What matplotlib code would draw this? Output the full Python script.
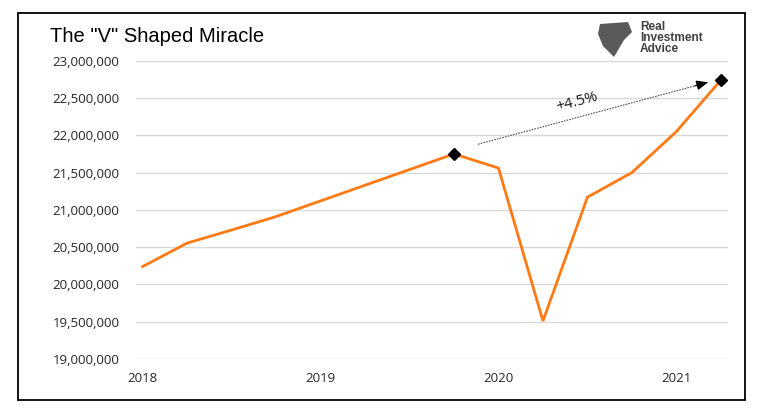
import numpy as np
import matplotlib
matplotlib.use("Agg")
from matplotlib import pyplot as plt
from matplotlib.patches import Rectangle, Polygon
from matplotlib.ticker import FuncFormatter

# quarterly values, 2018Q1 .. 2021Q2
quarters = np.arange(14)
gdp = [20240000, 20554000, 20730000, 20910000, 21120000, 21330000, 21540000,
       21750000, 21560000, 19510000, 21170000, 21500000, 22050000, 22740000]
year_ticks = [0, 4, 8, 12]
year_labels = ["2018", "2019", "2020", "2021"]
marked = [7, 13]
arrow_start = (7.54, 21880000)
arrow_end = (12.71, 22710000)
label_pos = (9.76, 22440000)
label_text = "+4.5%"

W, H = 762, 415
fig = plt.figure(figsize=(W / 100, H / 100), dpi=100)
fig.patch.set_facecolor("white")

ax = fig.add_axes([136 / W, 1 - 359 / H, (728 - 136) / W, (359 - 60.7) / H])
ax.set_xlim(-0.15, 13.16)
ax.set_ylim(19000000, 23000000)
ax.set_yticks(np.arange(19000000, 23000001, 500000))
ax.yaxis.set_major_formatter(FuncFormatter(lambda v, p: f"{int(v):,}"))
ax.set_xticks(year_ticks)
ax.set_xticklabels(year_labels)
ax.grid(axis="y", color="#D9D9D9", lw=1.0)
ax.set_axisbelow(True)
for s in ax.spines.values():
    s.set_visible(False)
ax.tick_params(length=0, labelsize=9.5, colors="#262626")
ax.tick_params(axis="y", pad=12)
ax.tick_params(axis="x", pad=9)
for lab in ax.get_xticklabels() + ax.get_yticklabels():
    lab.set_family("Open Sans")

ax.plot(quarters, gdp, color="#FF7A14", lw=2.0, solid_joinstyle="miter", zorder=3)
ax.plot([quarters[i] for i in marked], [gdp[i] for i in marked], "D",
        color="black", ms=6.5, zorder=4)

# dotted arrow
ax.plot([arrow_start[0], arrow_end[0]], [arrow_start[1], arrow_end[1]],
        color="#555555", lw=0.8, ls=(0, (1.5, 1.0)), zorder=2)
ax.annotate("", xy=arrow_end, xytext=(arrow_end[0] - 0.3, arrow_end[1] - 48000),
            arrowprops=dict(arrowstyle="-|>,head_length=0.7,head_width=0.3",
                            color="black", lw=0.8, shrinkA=0, shrinkB=0))
ax.text(label_pos[0], label_pos[1], label_text, rotation=15, ha="center",
        va="center", fontsize=11, family="Open Sans", color="#1a1a1a")

# title
fig.text(50 / W, 1 - 37 / H, 'The "V" Shaped Miracle', fontsize=14.5,
         family="Liberation Sans", va="center", ha="left", color="black")

# logo
logo = Polygon([[600 / W, 1 - 24 / H], [628 / W, 1 - 22 / H], [632 / W, 1 - 32 / H],
                [624 / W, 1 - 40 / H], [614 / W, 1 - 57 / H], [603 / W, 1 - 46 / H],
                [598 / W, 1 - 34 / H]], closed=True, transform=fig.transFigure,
               facecolor="#5a5a5a", edgecolor="none")
fig.patches.append(logo)
fig.text(640 / W, 1 - 38 / H, "Real\nInvestment\nAdvice", fontsize=8.6,
         fontweight="bold", family="Liberation Sans", color="#404040",
         va="center", ha="left", linespacing=0.9)

# outer frame
fig.patches.append(Rectangle((18 / W, 1 - 400 / H), (745 - 18) / W, (400 - 13) / H,
                             transform=fig.transFigure, fill=False,
                             edgecolor="black", lw=1.3))

fig.savefig("out.png", dpi=100)
